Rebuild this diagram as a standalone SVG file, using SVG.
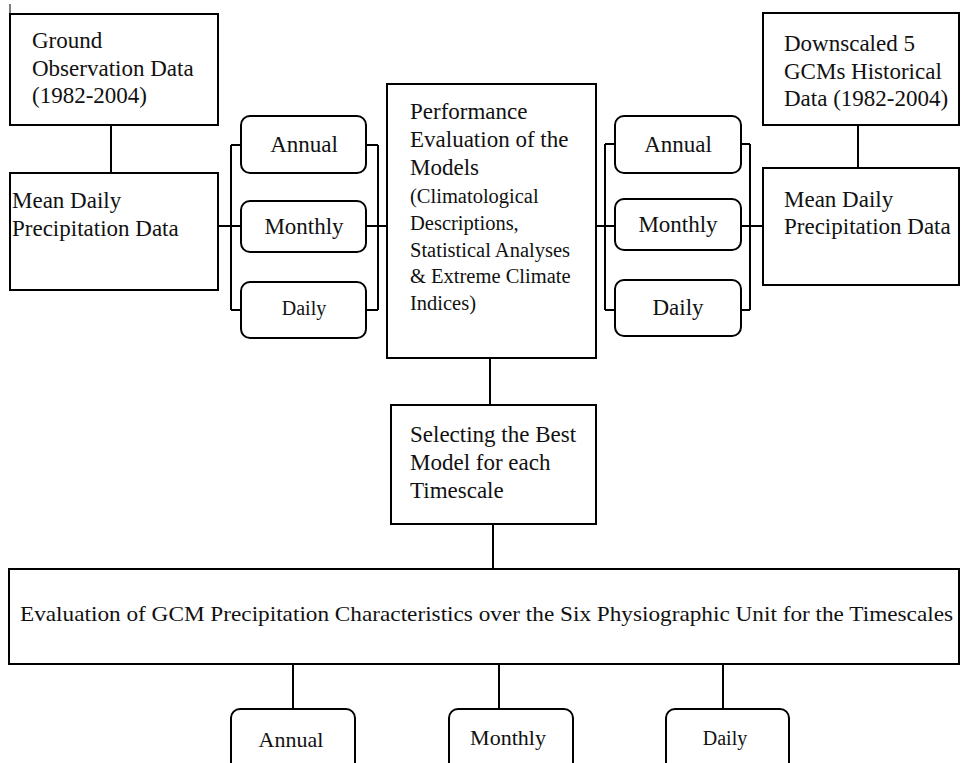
<svg xmlns="http://www.w3.org/2000/svg" width="961" height="763" viewBox="0 0 961 763">
<style>
.box{fill:#fff;stroke:#000;stroke-width:2}
.rbox{fill:#fff;stroke:#000;stroke-width:2}
.ln{fill:none;stroke:#000;stroke-width:2}
text{font-family:"Liberation Serif","Times New Roman",serif;fill:#111;font-size:23px}
.sm{font-size:20.5px}
.c{text-anchor:middle}
</style>
<rect width="961" height="763" fill="#fff"/>
<line x1="10" y1="4" x2="10" y2="13" stroke="#000" stroke-width="1"/>
<g id="connectors">
<path class="ln" d="M111 125V173"/>
<path class="ln" d="M218 226H241M231 145V310M231 145H241M231 310H241"/>
<path class="ln" d="M366 226H387M378 145V310M366 145H378M366 310H378"/>
<path class="ln" d="M858 125V168"/>
<path class="ln" d="M596 226H615M605 144V310M605 144H615M605 310H615"/>
<path class="ln" d="M741 226H763M750 144V310M741 144H750M741 310H750"/>
<path class="ln" d="M490 358V405"/>
<path class="ln" d="M493 524V569"/>
<path class="ln" d="M293 664V709M499 664V709M723 664V709"/>
</g>
<g id="ground">
<rect class="box" x="10" y="14" width="208" height="111"/>
<text x="32" y="48">Ground</text>
<text x="32" y="76">Observation Data</text>
<text x="32" y="103">(1982-2004)</text>
</g>
<g id="mean-left">
<rect class="box" x="10" y="173" width="208" height="117"/>
<text x="12" y="208">Mean Daily</text>
<text x="12" y="236">Precipitation Data</text>
</g>
<g id="annual-left">
<rect class="rbox" x="241" y="116" width="125" height="57" rx="9"/>
<text class="c" x="304" y="152">Annual</text>
</g>
<g id="monthly-left">
<rect class="rbox" x="241" y="201" width="125" height="51" rx="9"/>
<text class="c" x="304" y="234">Monthly</text>
</g>
<g id="daily-left">
<rect class="rbox" x="241" y="282" width="125" height="56" rx="9"/>
<text class="c" x="304" y="315" style="font-size:20px">Daily</text>
</g>
<g id="performance">
<rect class="box" x="387" y="84" width="209" height="274"/>
<text x="410" y="119">Performance</text>
<text x="410" y="147">Evaluation of the</text>
<text x="410" y="175">Models</text>
<text class="sm" x="410" y="203">(Climatological</text>
<text class="sm" x="410" y="230">Descriptions,</text>
<text class="sm" x="410" y="257">Statistical Analyses</text>
<text class="sm" x="410" y="283">&amp; Extreme Climate</text>
<text class="sm" x="410" y="310">Indices)</text>
</g>
<g id="annual-right">
<rect class="rbox" x="615" y="116" width="126" height="57" rx="9"/>
<text class="c" x="678" y="152">Annual</text>
</g>
<g id="monthly-right">
<rect class="rbox" x="615" y="199" width="126" height="51" rx="9"/>
<text class="c" x="678" y="232">Monthly</text>
</g>
<g id="daily-right">
<rect class="rbox" x="615" y="280" width="126" height="56" rx="9"/>
<text class="c" x="678" y="315">Daily</text>
</g>
<g id="downscaled">
<rect class="box" x="763" y="13" width="196" height="112"/>
<text x="784" y="51">Downscaled 5</text>
<text x="784" y="79">GCMs Historical</text>
<text x="784" y="106">Data (1982-2004)</text>
</g>
<g id="mean-right">
<rect class="box" x="763" y="168" width="196" height="117"/>
<text x="784" y="207">Mean Daily</text>
<text x="784" y="234">Precipitation Data</text>
</g>
<g id="selecting">
<rect class="box" x="391" y="405" width="205" height="119"/>
<text x="410" y="442">Selecting the Best</text>
<text x="410" y="470">Model for each</text>
<text x="410" y="498">Timescale</text>
</g>
<g id="evaluation">
<rect class="box" x="9" y="569" width="950" height="95"/>
<text x="20" y="621" style="font-size:22px" textLength="933" lengthAdjust="spacingAndGlyphs">Evaluation of GCM Precipitation Characteristics over the Six Physiographic Unit for the Timescales</text>
</g>
<g id="annual-bottom">
<rect class="rbox" x="231" y="709" width="124" height="62" rx="9"/>
<text class="c" x="291" y="747" style="font-size:22px">Annual</text>
</g>
<g id="monthly-bottom">
<rect class="rbox" x="449" y="709" width="124" height="62" rx="9"/>
<text class="c" x="508" y="745" style="font-size:22px">Monthly</text>
</g>
<g id="daily-bottom">
<rect class="rbox" x="666" y="709" width="123" height="62" rx="9"/>
<text class="c" x="725" y="745" style="font-size:20px">Daily</text>
</g>
</svg>
